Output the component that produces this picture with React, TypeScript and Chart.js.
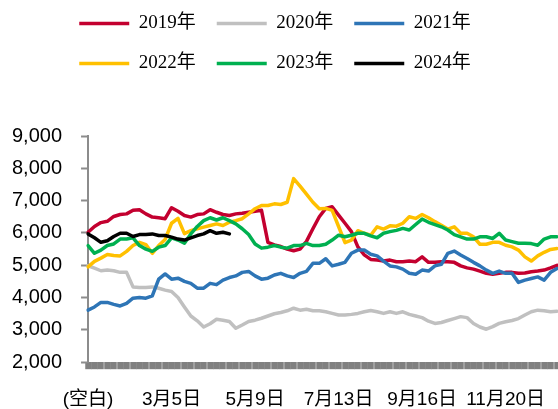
import { useEffect, useRef } from 'react';
import { Chart, registerables } from 'chart.js';

Chart.register(...registerables);

const SANS = "'Liberation Sans', Arial, 'Noto Sans CJK SC', sans-serif";
const SERIF = "'Liberation Serif', 'Times New Roman', 'Noto Sans CJK SC', serif";

// leap-year month lengths, one category every 5 days after the blank one
const monthDays = [31, 29, 31, 30, 31, 30, 31, 31, 30, 31, 30, 31];
const stepDays = 5;
const labelEvery = 13; // 65 days between visible tick labels

function dayLabel(day: number): string {
  let d = day;
  let m = 0;
  while (d > monthDays[m]) {
    d -= monthDays[m];
    m++;
  }
  return `${m + 1}月${d}日`;
}

const categories: string[] = ['(空白)', ...Array.from({ length: 73 }, (_, i) => dayLabel((i + 1) * stepDays))];

const seriesNames = ['2019年', '2020年', '2021年', '2022年', '2023年', '2024年'];
const seriesColors = ['#C3002F', '#C0C0C0', '#2E75B6', '#FFC000', '#00B050', '#000000'];

const y2019 = [
  6020, 6200, 6320, 6360, 6510, 6570, 6590, 6700, 6720, 6590,
  6490, 6470, 6440, 6780, 6670, 6540, 6490, 6570, 6590, 6720,
  6640, 6570, 6540, 6590, 6610, 6640, 6670, 6700, 5710, 5630,
  5580, 5500, 5450, 5500, 5740, 6130, 6500, 6760, 6810, 6550,
  6300, 6040, 5570, 5320, 5180, 5160, 5130, 5160, 5110, 5110,
  5130, 5110, 5260, 5090, 5090, 5110, 5110, 5090, 4980, 4920,
  4880, 4820, 4750, 4720, 4750, 4780, 4780, 4750, 4760, 4800,
  4820, 4850, 4920, 5000,
];
const y2020 = [
  4985, 4910, 4830, 4850, 4830, 4780, 4780, 4330, 4310, 4310,
  4330, 4290, 4230, 4190, 4000, 3710, 3430, 3280, 3090, 3190,
  3330, 3300, 3260, 3050, 3150, 3260, 3300, 3360, 3430, 3500,
  3540, 3590, 3670, 3610, 3640, 3590, 3590, 3560, 3510, 3460,
  3460, 3480, 3510, 3560, 3600, 3560, 3510, 3560, 3510, 3560,
  3480, 3430, 3380, 3270, 3200, 3230, 3290, 3350, 3410, 3380,
  3200, 3090, 3020, 3100, 3200, 3250, 3290, 3350, 3460, 3560,
  3610, 3590, 3560, 3580,
];
const y2021 = [
  3610, 3710, 3850, 3850, 3790, 3740, 3820, 3980, 4000, 3980,
  4050, 4570, 4730, 4570, 4600, 4500, 4440, 4290, 4290, 4440,
  4400, 4540, 4620, 4670, 4780, 4810, 4670, 4570, 4600, 4700,
  4750, 4670, 4620, 4750, 4810, 5060, 5060, 5200, 4980, 5030,
  5090, 5370, 5470, 5470, 5340, 5290, 5130, 4980, 4950, 4880,
  4750, 4720, 4850, 4820, 4980, 5030, 5370, 5440, 5320, 5210,
  5090, 4980, 4850, 4750, 4820, 4750, 4750, 4470, 4540, 4590,
  4640, 4540, 4780, 4900,
];
const y2022 = [
  4950, 5120, 5220, 5330, 5300, 5290, 5430, 5610, 5710, 5640,
  5370, 5610, 5800, 6300, 6450, 5980, 6070, 6130, 6180, 6230,
  6280, 6230, 6330, 6380, 6440, 6590, 6750, 6850, 6850, 6900,
  6880, 6950, 7680, 7450, 7200, 6950, 6750, 6760, 6700, 6200,
  5700, 5780, 6070, 5990, 5930, 6190, 6120, 6220, 6210, 6300,
  6500, 6450, 6570, 6470, 6350, 6240, 6120, 6190, 5990, 5990,
  5880, 5650, 5650, 5710, 5710, 5620, 5570, 5470, 5260, 5130,
  5290, 5400, 5490, 5520,
];
const y2023 = [
  5610, 5370, 5470, 5610, 5660, 5810, 5810, 5850, 5610, 5500,
  5430, 5560, 5610, 5850, 5780, 5680, 5970, 6200, 6380, 6470,
  6400, 6470, 6380, 6280, 6130, 5950, 5660, 5530, 5560, 5610,
  5560, 5530, 5610, 5610, 5680, 5610, 5610, 5650, 5780, 5930,
  5880, 5930, 5990, 5990, 5910, 5850, 5990, 6040, 6080, 6140,
  6090, 6260, 6430, 6330, 6260, 6190, 6090, 5950, 5880, 5810,
  5810, 5880, 5880, 5830, 5990, 5780, 5730, 5680, 5680, 5670,
  5620, 5810, 5880, 5880,
];
const y2024 = [
  5970, 5850, 5710, 5760, 5890, 5990, 5990, 5890, 5950, 5950,
  5970, 5920, 5920, 5870, 5810, 5780, 5850, 5920, 5970, 6070,
  5990, 6020, 5970,
];
const seriesValues = [y2019, y2020, y2021, y2022, y2023, y2024];

const yMin = 2000;
const yMax = 9000;
const yStep = 1000;

const AXIS_GRAY = '#8c8c8c';
const BAND_GRAY = '#808080';
const TICK_LEN = 7;

export default function App() {
  const canvasRef = useRef<HTMLCanvasElement | null>(null);

  useEffect(() => {
    if (!canvasRef.current) return;
    const chart = new Chart(canvasRef.current, {
      type: 'line',
      data: {
        labels: categories,
        datasets: seriesNames.map((name, i) => ({
          label: name,
          data: seriesValues[i],
          borderColor: seriesColors[i],
          backgroundColor: seriesColors[i],
          borderWidth: 3.5,
          borderCapStyle: 'round' as const,
          borderJoinStyle: 'round' as const,
          pointRadius: 0,
          pointHoverRadius: 0,
          tension: 0,
          fill: false,
          order: seriesNames.length - i,
        })),
      },
      options: {
        animation: false,
        responsive: true,
        maintainAspectRatio: false,
        layout: { padding: { left: 12, right: 19, top: -7, bottom: -13 } },
        plugins: {
          tooltip: { enabled: false },
          legend: {
            position: 'top',
            align: 'center',
            labels: {
              usePointStyle: true,
              pointStyle: 'line',
              pointStyleWidth: 50,
              padding: 21,
              color: '#000',
              font: { family: SERIF, size: 19 },
              sort: (a: any, b: any) => a.datasetIndex - b.datasetIndex,
            },
          },
          title: {
            display: true,
            text: '',
            position: 'top',
            weight: 500,
            font: { size: 10 },
            padding: { top: 0, bottom: 41 },
          },
        },
        scales: {
          x: {
            type: 'category',
            offset: false,
            grid: {
              display: true,
              drawOnChartArea: false,
              offset: false,
              tickLength: TICK_LEN,
              tickColor: BAND_GRAY,
              tickWidth: 6.5,
            },
            border: { display: false },
            ticks: {
              autoSkip: false,
              maxRotation: 0,
              minRotation: 0,
              padding: 19,
              color: '#000',
              font: { family: SANS, size: 19 },
              callback: function (this: any, val: any, idx: number) {
                return idx % labelEvery === 0 ? this.getLabelForValue(val) : '';
              },
            },
          },
          y: {
            min: yMin,
            max: yMax,
            grid: {
              display: true,
              drawOnChartArea: false,
              tickLength: TICK_LEN,
              tickColor: AXIS_GRAY,
              tickWidth: 2,
            },
            border: { display: true, color: AXIS_GRAY, width: 2 },
            ticks: {
              stepSize: yStep,
              padding: 19,
              color: '#000',
              font: { family: SANS, size: 20 },
              callback: (v: any) => Number(v).toLocaleString('en-US'),
            },
          },
        },
      },
    });
    return () => chart.destroy();
  }, []);

  return (
    <div style={{ position: 'absolute', left: 0, top: 0, width: '558px', height: '409px', overflow: 'hidden', background: '#fff' }}>
      <div style={{ position: 'absolute', left: '-19px', top: 0, width: '595px', height: '417px' }}>
        <canvas ref={canvasRef} />
      </div>
    </div>
  );
}
